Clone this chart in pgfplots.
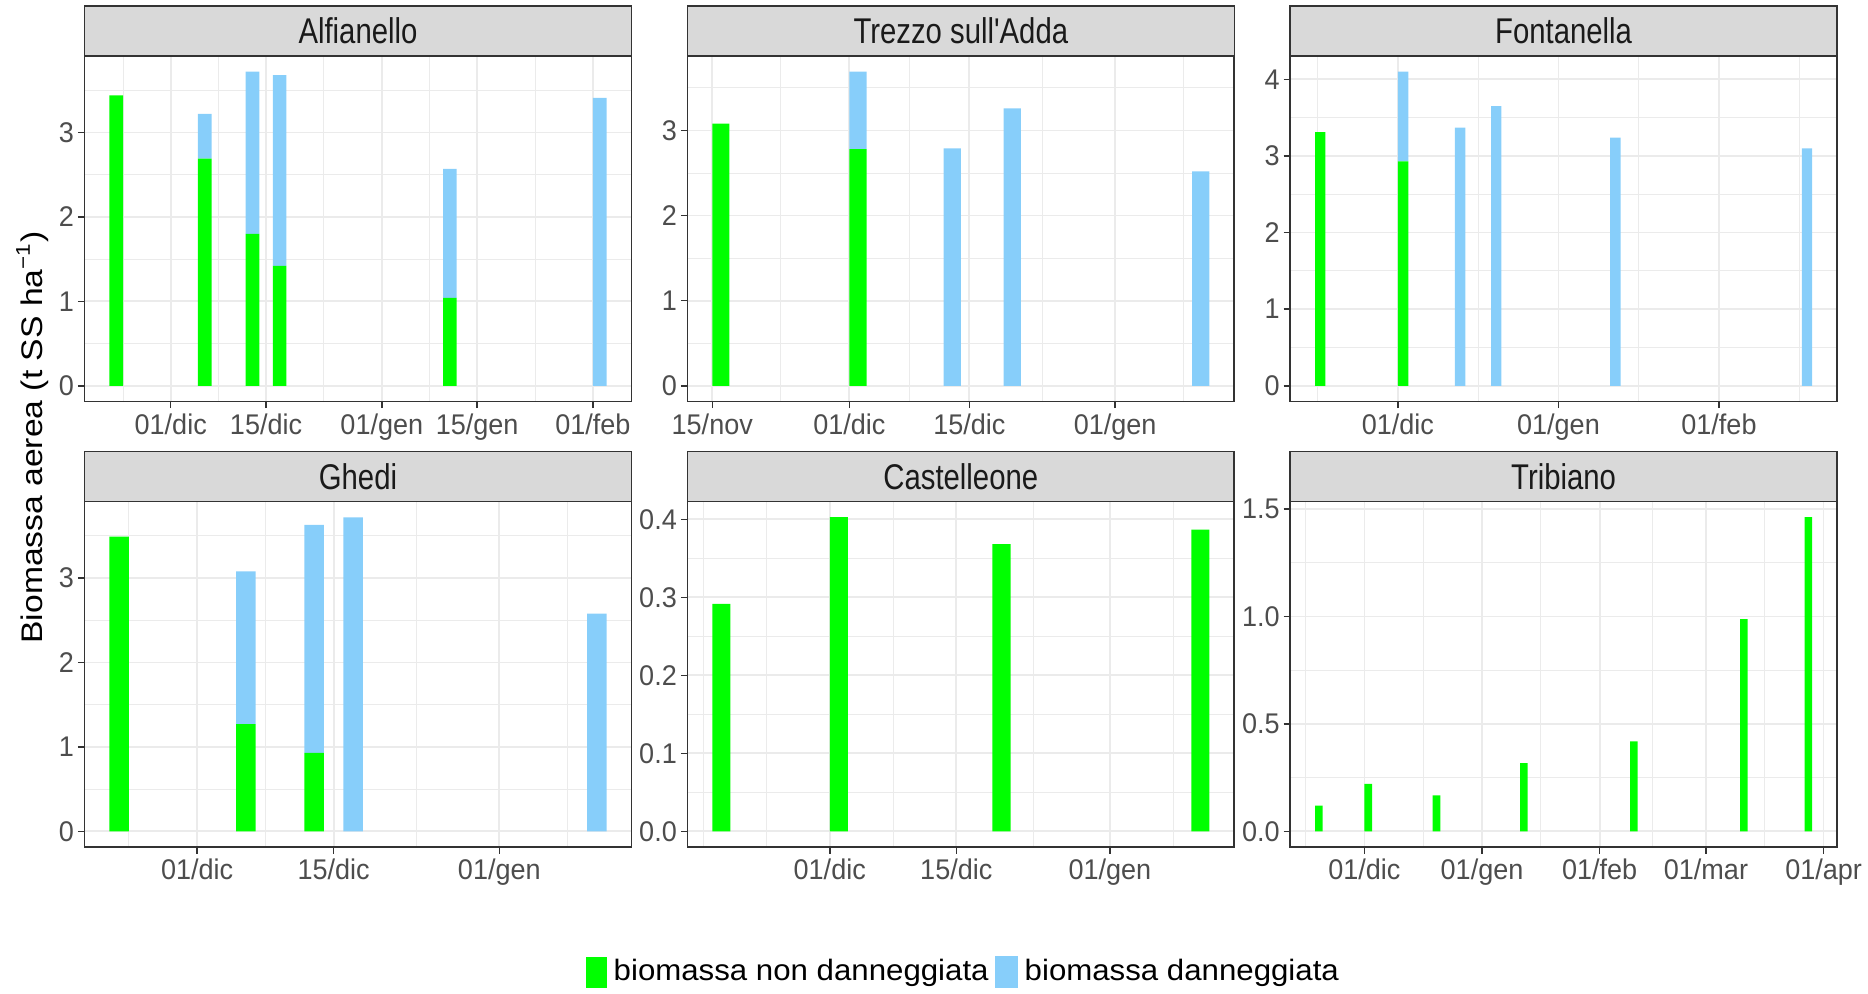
\documentclass[border=0pt]{standalone}
\usepackage{fontspec}
\setmainfont{Liberation Sans}
\newfontfamily\stripff[FakeStretch=0.82]{Liberation Sans}
\newfontfamily\tickff[FakeStretch=0.95]{Liberation Sans}
\newfontfamily\legff[FakeStretch=1.06]{Liberation Sans}
\newfontfamily\ylabff[FakeStretch=1.13]{Liberation Sans}
\usepackage{pgfplots}
\pgfplotsset{compat=1.18}
\usepackage{pgfplotstable}

\definecolor{gridc}{HTML}{EBEBEB}
\definecolor{border}{HTML}{333333}
\definecolor{stripfill}{HTML}{D9D9D9}
\definecolor{stripText}{HTML}{1A1A1A}
\definecolor{ticklab}{HTML}{4D4D4D}
\definecolor{barG}{HTML}{00FF00}
\definecolor{barB}{HTML}{87CEFA}

\newcommand\ticksfont{\tickff\fontsize{8.6}{9}\selectfont}
\newcommand\stripfont{\stripff\fontsize{10.8}{11}\selectfont}
\newcommand\legfont{\legff\fontsize{8.9}{10}\selectfont}
\newcommand\labfont{\ylabff\fontsize{9.0}{10}\selectfont}

% Alfianello
\pgfplotstableread{
d g b
22 3.44 0
35 2.69 0.53
42 1.80 1.92
46 1.42 2.26
71 1.04 1.53
93 0 3.41
}\tabA
% Trezzo sull'Adda
\pgfplotstableread{
d g b
15 3.08 0
31 2.78 0.91
42 0 2.79
49 0 3.26
71 0 2.52
}\tabB
% Fontanella
\pgfplotstableread{
d g b
15 3.31 0
31 2.93 1.17
42 0 3.37
49 0 3.65
72 0 3.24
109 0 3.10
}\tabC
% Ghedi
\pgfplotstableread{
d g b
22 3.49 0
35 1.27 1.81
42 0.93 2.70
46 0 3.72
71 0 2.58
}\tabD
% Castelleone
\pgfplotstableread{
d g
18 0.2915
31 0.4026
49 0.368
71 0.3868
}\tabE
% Tribiano
\pgfplotstableread{
d g
18 0.120
31 0.221
49 0.167
72 0.318
101 0.419
130 0.988
147 1.462
}\tabF

\pgfplotsset{
 panel/.style={
  scale only axis, width=165.24pt, height=104.4pt, anchor=south west,
  axis line style={draw=border, line width=0.45pt},
  tick align=outside, xtick pos=left, ytick pos=left,
  major tick length=2pt, minor tick length=0pt,
  tick style={draw=border, line width=0.45pt},
  xmajorgrids, ymajorgrids, xminorgrids, yminorgrids,
  major grid style={draw=gridc, line width=0.55pt},
  minor grid style={draw=gridc, line width=0.28pt},
  ybar stacked, bar width=2,
  xticklabel style={font=\ticksfont, text=ticklab, inner sep=1.4pt},
  yticklabel style={font=\ticksfont, text=ticklab, inner sep=1.0pt},
 },
 gbar/.style={fill=barG, draw=none, legend image code/.code={\fill[barG] (0pt,-4.7pt) rectangle (6.5pt,4.7pt);}},
 bbar/.style={fill=barB, draw=none, legend image code/.code={\fill[barB] (0pt,-4.7pt) rectangle (6.5pt,4.7pt);}},
}

\newcommand\strip[2]{%
 \draw[fill=stripfill, draw=border, line width=0.45pt] (#1.north west) rectangle ([yshift=15.12pt]#1.north east);
 \node[font=\stripfont, text=stripText, anchor=center] at ([yshift=7.56pt]#1.north) {#2};}

\begin{document}
\begin{tikzpicture}
% Row 1
\begin{axis}[panel, name=a1, at={(25.56pt,178.92pt)},
 xmin=17.35, xmax=97.65, ymin=-0.186, ymax=3.906,
 xtick={30,44,61,75,92}, xticklabels={01/dic,15/dic,01/gen,15/gen,01/feb},
 minor xtick={23,37,52.5,68,83.5},
 ytick={0,1,2,3}, yticklabels={0,1,2,3}, minor ytick={0.5,1.5,2.5,3.5}]
\addplot[gbar] table[x=d,y=g]{\tabA};
\addplot[bbar] table[x=d,y=b]{\tabA};
\end{axis}
\strip{a1}{Alfianello}

\begin{axis}[panel, name=a2, at={(207.72pt,178.92pt)},
 xmin=11.1, xmax=74.9, ymin=-0.1845, ymax=3.8745,
 xtick={14,30,44,61}, xticklabels={15/nov,01/dic,15/dic,01/gen},
 minor xtick={22,37,52.5,69},
 ytick={0,1,2,3}, yticklabels={0,1,2,3}, minor ytick={0.5,1.5,2.5,3.5}]
\addplot[gbar] table[x=d,y=g]{\tabB};
\addplot[bbar] table[x=d,y=b]{\tabB};
\end{axis}
\strip{a2}{Trezzo sull'Adda}

\begin{axis}[panel, name=a3, at={(389.88pt,178.92pt)},
 xmin=9.2, xmax=114.8, ymin=-0.205, ymax=4.305,
 xtick={30,61,92}, xticklabels={01/dic,01/gen,01/feb},
 minor xtick={14.5,45.5,76.5,107.5},
 ytick={0,1,2,3,4}, yticklabels={0,1,2,3,4}, minor ytick={0.5,1.5,2.5,3.5}]
\addplot[gbar] table[x=d,y=g]{\tabC};
\addplot[bbar] table[x=d,y=b]{\tabC};
\end{axis}
\strip{a3}{Fontanella}

% Row 2
\begin{axis}[panel, name=a4, at={(25.56pt,44.28pt)},
 xmin=18.45, xmax=74.55, ymin=-0.186, ymax=3.906,
 xtick={30,44,61}, xticklabels={01/dic,15/dic,01/gen},
 minor xtick={23,37,52.5,68},
 ytick={0,1,2,3}, yticklabels={0,1,2,3}, minor ytick={0.5,1.5,2.5,3.5}]
\addplot[gbar] table[x=d,y=g]{\tabD};
\addplot[bbar] table[x=d,y=b]{\tabD};
\end{axis}
\strip{a4}{Ghedi}

\begin{axis}[panel, name=a5, at={(207.72pt,44.28pt)},
 xmin=14.25, xmax=74.75, ymin=-0.02013, ymax=0.4227,
 xtick={30,44,61}, xticklabels={01/dic,15/dic,01/gen},
 minor xtick={16,23,37,52.5,68},
 ytick={0,0.1,0.2,0.3,0.4}, yticklabels={0.0,0.1,0.2,0.3,0.4},
 minor ytick={0.05,0.15,0.25,0.35},
 legend columns=2,
 legend style={at={(0.5087,-0.362)}, anchor=center, draw=none, fill=none,
   font=\legfont, inner sep=0pt, row sep=0pt,
   nodes={inner xsep=2.0pt, inner ysep=1pt, anchor=west},
   /tikz/every even column/.append style={column sep=0pt}}]
\addplot[gbar] table[x=d,y=g]{\tabE};
\addlegendentry{biomassa non danneggiata}
\addlegendimage{legend image code/.code={\fill[barB] (0pt,-4.7pt) rectangle (6.5pt,4.7pt);}}
\addlegendentry{biomassa danneggiata}
\end{axis}
\strip{a5}{Castelleone}

\begin{axis}[panel, name=a6, at={(389.88pt,44.28pt)},
 xmin=10.45, xmax=154.55, ymin=-0.0731, ymax=1.535,
 xtick={30,61,92,120,151}, xticklabels={01/dic,01/gen,01/feb,01/mar,01/apr},
 minor xtick={14.5,45.5,76.5,106,135.5},
 ytick={0,0.5,1,1.5}, yticklabels={0.0,0.5,1.0,1.5}, minor ytick={0.25,0.75,1.25}]
\addplot[gbar] table[x=d,y=g]{\tabF};
\end{axis}
\strip{a6}{Tribiano}

\node[rotate=90, font=\labfont, text=black] at (9.79pt,168.1pt) {Biomassa aerea (t SS ha\textsuperscript{−1})};

\pgfresetboundingbox
\path (0pt,0pt) rectangle (564.48pt,300.24pt);
\end{tikzpicture}
\end{document}
